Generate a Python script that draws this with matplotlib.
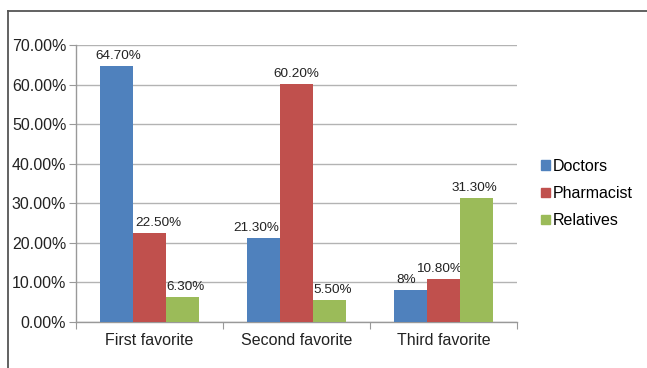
import matplotlib
matplotlib.use("Agg")
import matplotlib.pyplot as plt
from matplotlib.patches import Rectangle
from matplotlib.lines import Line2D
import numpy as np

plt.rcParams['font.family'] = ['Liberation Sans', 'DejaVu Sans']

categories = ["First favorite", "Second favorite", "Third favorite"]
series_names = ["Doctors", "Pharmacist", "Relatives"]
doctors = [64.70, 21.30, 8.0]
pharmacist = [22.50, 60.20, 10.80]
relatives = [6.30, 5.50, 31.30]
doctors_labels = ["64.70%", "21.30%", "8%"]
pharmacist_labels = ["22.50%", "60.20%", "10.80%"]
relatives_labels = ["6.30%", "5.50%", "31.30%"]
yticks = [0, 10, 20, 30, 40, 50, 60, 70]
ytick_labels = ["0.00%", "10.00%", "20.00%", "30.00%", "40.00%", "50.00%", "60.00%", "70.00%"]

colors = ["#4F81BD", "#C0504D", "#9BBB59"]
W, H = 647, 368
fig = plt.figure(figsize=(W / 100, H / 100), dpi=100)
fig.patch.set_facecolor("white")

# outer border (only top and left visible)
bx, by = 8 / W, (H - 11) / H
fig.lines.append(Line2D([bx, 1.05], [by, by], transform=fig.transFigure,
                        color="#555555", lw=1.3))
fig.lines.append(Line2D([bx, bx], [-0.05, by], transform=fig.transFigure,
                        color="#555555", lw=1.3))

ax = fig.add_axes([76 / W, (H - 322) / H, (517 - 76) / W, (322 - 45) / H])
x = np.arange(len(categories))
bw = 0.2245
all_series = [doctors, pharmacist, relatives]
all_labels = [doctors_labels, pharmacist_labels, relatives_labels]
# small horizontal label shifts (pixels) like the original
shifts = [[2, -7, -4], [9, 0, -5], [3, 3.5, -2]]
for i, (vals, labs, name) in enumerate(zip(all_series, all_labels, series_names)):
    pos = x + (i - 1) * bw
    ax.bar(pos, vals, width=bw, color=colors[i], label=name, zorder=3)
    for j, (p, v, lab) in enumerate(zip(pos, vals, labs)):
        ax.annotate(lab, (p, v), xytext=(shifts[i][j] * 0.72, 3),
                    textcoords="offset points", ha="center", va="bottom",
                    fontsize=9.7, color="#222222")

ax.set_xlim(-0.5, 2.5)
ax.set_ylim(0, 70)
ax.set_yticks(yticks)
ax.set_yticklabels(ytick_labels, fontsize=11.5, color="#222222")
ax.yaxis.grid(True, color="#b3b3b3", lw=1, zorder=0)
ax.set_xticks([-0.5, 0.5, 1.5, 2.5])
ax.set_xticklabels([])
ax.set_xticks(x, minor=True)
ax.set_xticklabels(categories, minor=True, fontsize=11.5, color="#222222")
ax.tick_params(axis="x", which="minor", length=0, pad=8)
ax.tick_params(axis="x", which="major", length=5, color="#999999", direction="out")
ax.tick_params(axis="y", length=5, color="#999999", direction="out", pad=2)
for s in ["top", "right"]:
    ax.spines[s].set_visible(False)
for s in ["left", "bottom"]:
    ax.spines[s].set_color("#999999")
    ax.spines[s].set_linewidth(1)

handles = [Rectangle((0, 0), 1, 1, color=c) for c in colors]
fig.legend(handles, series_names, loc="upper left",
           bbox_to_anchor=(541 / W, (H - 159) / H), frameon=False,
           borderpad=0, borderaxespad=0,
           fontsize=11.5, handlelength=0.56, handleheight=0.56,
           handletextpad=0.2, labelspacing=0.76)

fig.savefig("out.png", dpi=100)
